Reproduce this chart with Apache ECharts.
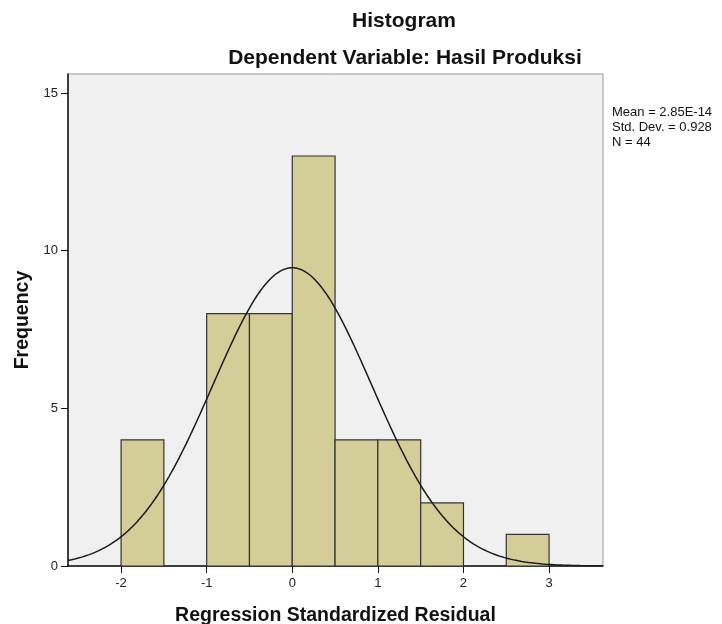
<!DOCTYPE html>
<html>
<head>
<meta charset="utf-8">
<script src="https://cdn.jsdelivr.net/npm/echarts@6/dist/echarts.min.js"></script>
<style>
  html, body { margin: 0; padding: 0; background: #fff; }
  #chart { width: 722px; height: 624px; }
</style>
</head>
<body>
<div id="chart"></div>
<script>
// bins: lower edge of each bar, width 0.5
const binStarts = [-2, -1.5, -1, -0.5, 0, 0.5, 1, 1.5, 2, 2.5];
const binCounts = [4, 0, 8, 8, 13, 4, 4, 2, 0, 1];
const binWidth = 0.5;

const xTicks = [-2, -1, 0, 1, 2, 3];
const yTicks = [0, 5, 10, 15];

// fitted normal stats shown in the legend
const mean = 2.85e-14;
const stdDev = 0.928;
const nObs = 44;

const xMin = -2.62, xMax = 3.63;

const font = 'Arial, "Liberation Sans", sans-serif';

const chart = echarts.init(document.getElementById('chart'));

const barData = binStarts.map((s, i) => [s, s + binWidth, binCounts[i]]).filter(d => d[2] > 0);

// normal curve scaled to counts
const curve = [];
for (let x = xMin; x <= xMax + 1e-9; x += 0.02) {
  const z = (x - mean) / stdDev;
  const y = nObs * binWidth * Math.exp(-0.5 * z * z) / (stdDev * Math.sqrt(2 * Math.PI));
  curve.push([x, y]);
}

const option = {
  animation: false,
  title: [
    { text: 'Histogram', left: 399, top: 6, textAlign: 'center',
      textStyle: { fontFamily: font, fontSize: 21, fontWeight: 'bold', color: '#111' } },
    { text: 'Dependent Variable: Hasil Produksi', left: 400, top: 43, textAlign: 'center',
      textStyle: { fontFamily: font, fontSize: 21, fontWeight: 'bold', color: '#111' } }
  ],
  grid: {
    left: 68, right: 119, top: 74, bottom: 58,
    outerBoundsMode: 'none',
    show: true, backgroundColor: '#f0f0f0', borderColor: '#9a9a9a', borderWidth: 1
  },
  xAxis: {
    type: 'value', min: xMin, max: xMax,
    name: 'Regression Standardized Residual', nameLocation: 'middle', nameGap: 40,
    nameTextStyle: { fontFamily: font, fontSize: 19.5, fontWeight: 'bold', color: '#111' },
    splitLine: { show: false },
    axisLine: { onZero: false, lineStyle: { color: '#111', width: 1.5 } },
    axisTick: { show: true, length: 7, customValues: xTicks, lineStyle: { color: '#111' } },
    axisLabel: { customValues: xTicks, fontFamily: font, fontSize: 13, color: '#222', margin: 11 }
  },
  yAxis: {
    type: 'value', min: 0, max: 15.6,
    name: 'Frequency', nameLocation: 'middle', nameGap: 35,
    nameTextStyle: { fontFamily: font, fontSize: 19.5, fontWeight: 'bold', color: '#111' },
    splitLine: { show: false },
    axisLine: { show: true, onZero: false, lineStyle: { color: '#111', width: 1.5 } },
    axisTick: { show: true, length: 7, customValues: yTicks, lineStyle: { color: '#111' } },
    axisLabel: { customValues: yTicks, fontFamily: font, fontSize: 13, color: '#222', margin: 10 }
  },
  graphic: [
    { type: 'text', left: 612, top: 105,
      style: { text: 'Mean = 2.85E-14\nStd. Dev. = 0.928\nN = 44',
        font: '13px ' + font, fill: '#111', lineHeight: 15 } }
  ],
  series: [
    {
      type: 'custom',
      data: barData,
      renderItem: function (params, api) {
        const p0 = api.coord([api.value(0), api.value(2)]);
        const p1 = api.coord([api.value(1), 0]);
        return {
          type: 'rect',
          shape: { x: p0[0], y: p0[1], width: p1[0] - p0[0], height: p1[1] - p0[1] },
          style: { fill: '#d3ce98', stroke: '#333', lineWidth: 1.2 }
        };
      },
      encode: { x: [0, 1], y: 2 },
      z: 2
    },
    {
      type: 'line',
      data: curve,
      showSymbol: false,
      lineStyle: { color: '#1a1a1a', width: 1.5 },
      clip: true,
      z: 3
    }
  ]
};

chart.setOption(option);
</script>
</body>
</html>
